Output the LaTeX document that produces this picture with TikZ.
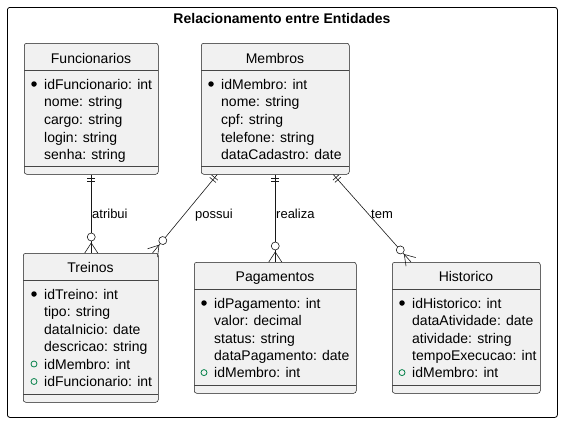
\documentclass[tikz,border=0pt]{standalone}
\usepackage{fontspec}
\setmainfont{Liberation Sans}
\usepackage{xcolor}
\usepackage{tikz}
\usetikzlibrary{positioning}
\usetikzlibrary{decorations.markings}

\definecolor{borda}{HTML}{181818}
\definecolor{fundo}{HTML}{F1F1F1}
\definecolor{verde}{HTML}{038048}

\tikzset{
  entidade/.style={draw=borda, fill=fundo, line width=0.5pt, rounded corners=2.5pt,
    inner sep=0pt, anchor=north west},
  divisa/.style={draw=borda!80, line width=0.5pt},
  nomeent/.style={inner sep=0pt, anchor=base, font=\fontsize{14pt}{17pt}\selectfont},
  atrib/.style={inner sep=0pt, anchor=base west, font=\fontsize{14pt}{17pt}\selectfont},
  rotulo/.style={inner sep=0pt, anchor=base west, font=\fontsize{13pt}{16pt}\selectfont},
  pk/.style={circle, fill=black, inner sep=0pt, minimum size=5.5pt},
  fk/.style={circle, draw=verde, line width=0.8pt, inner sep=0pt, minimum size=6pt},
  rel/.style={draw=borda, line width=0.6pt, postaction={decorate},
    decoration={markings,
      mark=at position 4pt with {\draw[borda, line width=0.6pt] (0pt,-4pt) -- (0pt,4pt);},
      mark=at position 7pt with {\draw[borda, line width=0.6pt] (0pt,-4pt) -- (0pt,4pt);},
      mark=at position 1 with {\draw[borda, line width=0.6pt] (-10pt,0pt) -- (0pt,6.5pt)
          (-10pt,0pt) -- (0pt,-6.5pt);
        \filldraw[draw=borda, fill=white, line width=0.6pt] (-16pt,0pt) circle (4pt);}}}
}

\begin{document}
\begin{tikzpicture}[x=1pt, y=-1pt]
  \useasboundingbox (0,0) rectangle (562,423);

  % Moldura
  \node[draw=black, line width=0.8pt, rounded corners=2.5pt, minimum width=550pt,
    minimum height=410pt, anchor=north west] (quadro) at (7,7) {};
  \node[font=\bfseries\fontsize{14pt}{17pt}\selectfont, inner sep=0pt, anchor=base] (titulo)
    at (282,23.3) {Relacionamento entre Entidades};

  % Funcionarios
  \node[entidade, minimum width=134pt, minimum height=131pt] (func) at (24,43) {};
  \node[nomeent] (funcN) at (91,63) {Funcionarios};
  \draw[divisa] (24,70) -- (158,70) (24,166) -- (158,166);
  \foreach \t [count=\i from 0] in {idFuncionario: int,nome: string,cargo: string,login: string,senha: string}
    \node[atrib] (func\i) at (44,89.3+17.6*\i) {\t};
  \node[pk] (funcPK) at (34,84) {};

  % Membros
  \node[entidade, minimum width=148pt, minimum height=131pt] (memb) at (201,43) {};
  \node[nomeent] (membN) at (275,63) {Membros};
  \draw[divisa] (201,70) -- (349,70) (201,166) -- (349,166);
  \foreach \t [count=\i from 0] in {idMembro: int,nome: string,cpf: string,telefone: string,dataCadastro: date}
    \node[atrib] (memb\i) at (221,89.3+17.6*\i) {\t};
  \node[pk] (membPK) at (211,84) {};

  % Treinos
  \node[entidade, minimum width=135pt, minimum height=149pt] (trei) at (23,253) {};
  \node[nomeent] (treiN) at (90.5,272.7) {Treinos};
  \draw[divisa] (23,280) -- (158,280) (23,394) -- (158,394);
  \foreach \t [count=\i from 0] in {idTreino: int,tipo: string,dataInicio: date,descricao: string,idMembro: int,idFuncionario: int}
    \node[atrib] (trei\i) at (44,299.3+17.5*\i) {\t};
  \node[pk] (treiPK) at (34,294) {};
  \node[fk] (treiFK1) at (34,364) {};
  \node[fk] (treiFK2) at (34,381.5) {};

  % Pagamentos
  \node[entidade, minimum width=162pt, minimum height=131pt] (pag) at (194,262) {};
  \node[nomeent] (pagN) at (275,281) {Pagamentos};
  \draw[divisa] (194,289) -- (356,289) (194,385) -- (356,385);
  \foreach \t [count=\i from 0] in {idPagamento: int,valor: decimal,status: string,dataPagamento: date,idMembro: int}
    \node[atrib] (pag\i) at (214,308.3+17.4*\i) {\t};
  \node[pk] (pagPK) at (204,303) {};
  \node[fk] (pagFK) at (204,372.6) {};

  % Historico
  \node[entidade, minimum width=148pt, minimum height=131pt] (hist) at (392,262) {};
  \node[nomeent] (histN) at (466,281) {Historico};
  \draw[divisa] (392,289) -- (540,289) (392,385) -- (540,385);
  \foreach \t [count=\i from 0] in {idHistorico: int,dataAtividade: date,atividade: string,tempoExecucao: int,idMembro: int}
    \node[atrib] (hist\i) at (412,308.3+17.4*\i) {\t};
  \node[pk] (histPK) at (402,303) {};
  \node[fk] (histFK) at (402,372.6) {};

  % Relacionamentos
  \draw[rel] (func.south) -- (func.south |- trei.north);
  \draw[rel] ([xshift=-58pt]memb.south) -- ([xshift=-6pt]trei.north east);
  \draw[rel] (memb.south) -- (pag.north);
  \draw[rel] ([xshift=58pt]memb.south) -- ([xshift=19pt]hist.north west);

  \node[rotulo] (lblAtribui) at (92,218.3) {atribui};
  \node[rotulo] (lblPossui) at (195,218.3) {possui};
  \node[rotulo] (lblRealiza) at (276,218.3) {realiza};
  \node[rotulo] (lblTem) at (371,218.3) {tem};
\end{tikzpicture}
\end{document}
